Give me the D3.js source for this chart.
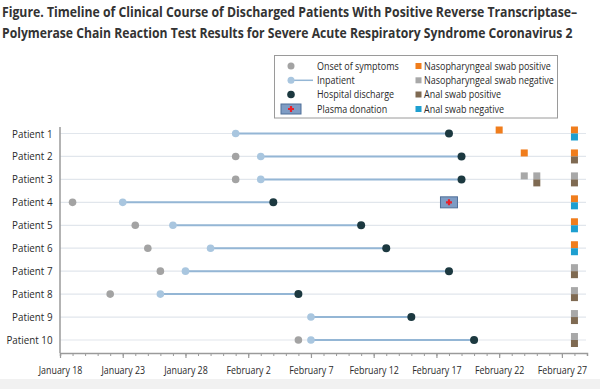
<!DOCTYPE html>
<html><head><meta charset="utf-8">
<script src="https://cdn.jsdelivr.net/npm/d3@7"></script>
<style>body{margin:0;background:#fff}svg{display:block}</style>
</head><body>
<svg id="c" width="600" height="389"></svg>
<script>
const patients = ["Patient 1","Patient 2","Patient 3","Patient 4","Patient 5","Patient 6","Patient 7","Patient 8","Patient 9","Patient 10"];
const onsetDates = [null,"2020-02-01","2020-02-01","2020-01-19","2020-01-24","2020-01-25","2020-01-26","2020-01-22",null,"2020-02-06"];
const admitDates = ["2020-02-01","2020-02-03","2020-02-03","2020-01-23","2020-01-27","2020-01-30","2020-01-28","2020-01-26","2020-02-07","2020-02-07"];
const dischargeDates = ["2020-02-18","2020-02-19","2020-02-19","2020-02-04","2020-02-11","2020-02-13","2020-02-18","2020-02-06","2020-02-15","2020-02-20"];
const plasmaDonations = [{patient:"Patient 4", date:"2020-02-18"}];
// tests: patient, date, nasopharyngeal result, anal result
const testPatients = ["Patient 1","Patient 1","Patient 2","Patient 2","Patient 3","Patient 3","Patient 3","Patient 4","Patient 5","Patient 6","Patient 7","Patient 8","Patient 9","Patient 10"];
const testDates = ["2020-02-22","2020-02-28","2020-02-24","2020-02-28","2020-02-24","2020-02-25","2020-02-28","2020-02-28","2020-02-28","2020-02-28","2020-02-28","2020-02-28","2020-02-28","2020-02-28"];
const npResults = ["pos","pos","pos","pos","neg","neg","neg","pos","pos","pos","neg","neg","neg","neg"];
const analResults = [null,"neg",null,"pos",null,"pos","pos","neg","neg","neg","pos","pos","pos","pos"];
const tickDates = ["2020-01-18","2020-01-23","2020-01-28","2020-02-02","2020-02-07","2020-02-12","2020-02-17","2020-02-22","2020-02-27"];
const tickLabels = ["January 18","January 23","January 28","February 2","February 7","February 12","February 17","February 22","February 27"];
const titleLines = ["Figure.  Timeline of Clinical Course of Discharged Patients With Positive Reverse Transcriptase–",
                    "Polymerase Chain Reaction Test Results for Severe Acute Respiratory Syndrome Coronavirus 2"];

const P = d3.utcParse("%Y-%m-%d");
const C = {onset:"#a3a3a3", inpat:"#a9c6df", line:"#94b6d5", dis:"#1c3940", npPos:"#f07d1c", npNeg:"#a8a8a8", anPos:"#7f6a52", anNeg:"#1e9fd0", grid:"#e1e6ec", axis:"#9a9a9a", text:"#2a2a2a"};
const font = "'Open Sans', 'DejaVu Sans', sans-serif";

// horizontally condense text to mimic the narrow original typeface
function condense(sel,k){
  sel.each(function(){
    const w = this.getComputedTextLength();
    d3.select(this).attr("textLength",w*k).attr("lengthAdjust","spacingAndGlyphs");
  });
}

const svg = d3.select("#c");
svg.append("rect").attr("x",0).attr("y",379).attr("width",600).attr("height",10).attr("fill","#f1f1f1");

// title: scaled horizontally with a transform so its box stays inside the page
const tt = svg.selectAll("text.title").data(titleLines).join("text")
  .attr("x",0).attr("y",0)
  .attr("font-family",font).attr("font-weight",700).attr("font-size",13.5)
  .attr("fill","#333").text(d=>d);
tt.each(function(d,i){
  const target = i===0?576:571;
  const w = this.getComputedTextLength();
  d3.select(this).attr("transform",`translate(2,${17+i*21}) scale(${target/w},1)`);
});

const x = d3.scaleUtc().domain([P("2020-01-18"),P("2020-02-29")]).range([60,587]);
const y = d3.scalePoint().domain(patients).range([133.5,340]);
const axisY = 353;

// gridlines
svg.append("g").selectAll("line").data(patients).join("line")
  .attr("x1",60).attr("x2",586).attr("y1",d=>y(d)).attr("y2",d=>y(d))
  .attr("stroke",C.grid).attr("stroke-width",1.2);

// x axis minor ticks
const minor = d3.utcDay.range(P("2020-01-18"),d3.utcDay.offset(P("2020-02-29"),1));
const gx = svg.append("g").attr("transform",`translate(0,${axisY})`);
gx.call(d3.axisBottom(x).tickValues(minor).tickSize(3).tickFormat(""));
gx.selectAll("line").attr("stroke",C.axis);
gx.select(".domain").attr("stroke",C.axis).attr("stroke-width",1.5);
const gx2 = svg.append("g").attr("transform",`translate(0,${axisY})`);
gx2.call(d3.axisBottom(x).tickValues(tickDates.map(P)).tickSize(5).tickPadding(8)
  .tickFormat((d,i)=>tickLabels[i]));
gx2.select(".domain").remove();
gx2.selectAll("line").attr("stroke",C.axis).attr("stroke-width",1.2);
gx2.selectAll("text").attr("font-family",font).attr("font-size",10.8).attr("fill",C.text).call(condense,0.82);

// y axis
const gy = svg.append("g").attr("transform","translate(60,0)");
gy.call(d3.axisLeft(y).tickSize(0).tickPadding(7.5));
gy.select(".domain").attr("d",`M0,127V${axisY}`).attr("stroke",C.axis).attr("stroke-width",1.5);
gy.selectAll("text").attr("font-family",font).attr("font-size",11).attr("fill",C.text).call(condense,0.89);

// inpatient lines
const rows = patients.map((p,i)=>({p, onset:onsetDates[i]&&P(onsetDates[i]), admit:P(admitDates[i]), dis:P(dischargeDates[i])}));
svg.append("g").selectAll("line").data(rows).join("line")
  .attr("x1",d=>x(d.admit)).attr("x2",d=>x(d.dis)).attr("y1",d=>y(d.p)).attr("y2",d=>y(d.p))
  .attr("stroke",C.line).attr("stroke-width",2);
svg.append("g").selectAll("circle").data(rows.filter(d=>d.onset)).join("circle")
  .attr("cx",d=>x(d.onset)).attr("cy",d=>y(d.p)).attr("r",3.8).attr("fill",C.onset);
svg.append("g").selectAll("circle").data(rows).join("circle")
  .attr("cx",d=>x(d.admit)).attr("cy",d=>y(d.p)).attr("r",3.8).attr("fill",C.inpat);
svg.append("g").selectAll("circle").data(rows).join("circle")
  .attr("cx",d=>x(d.dis)).attr("cy",d=>y(d.p)).attr("r",4).attr("fill",C.dis);

// plasma
function plasma(g,cx,cy,w,h){
  g.append("rect").attr("x",cx-w/2).attr("y",cy-h/2).attr("width",w).attr("height",h)
    .attr("fill","#7e9cc4").attr("stroke","#4f6f98").attr("stroke-width",1);
  g.append("path").attr("d",`M${cx-3},${cy}H${cx+3}M${cx},${cy-3}V${cy+3}`)
    .attr("stroke","#e8202a").attr("stroke-width",2.2);
}
plasmaDonations.forEach(d=>plasma(svg.append("g"),x(P(d.date)),y(d.patient),17,11));

// tests
const tests = testPatients.map((p,i)=>({p,d:P(testDates[i]),np:npResults[i],an:analResults[i]}));
const sq = 7;
const tg = svg.append("g");
tg.selectAll("rect.np").data(tests.filter(t=>t.np)).join("rect")
  .attr("x",t=>x(t.d)-sq/2).attr("y",t=>y(t.p)-sq).attr("width",sq).attr("height",sq)
  .attr("fill",t=>t.np==="pos"?C.npPos:C.npNeg);
tg.selectAll("rect.an").data(tests.filter(t=>t.an)).join("rect")
  .attr("x",t=>x(t.d)-sq/2).attr("y",t=>y(t.p)).attr("width",sq).attr("height",sq)
  .attr("fill",t=>t.an==="pos"?C.anPos:C.anNeg);

// legend
const lg = svg.append("g");
lg.append("rect").attr("x",274.5).attr("y",55.5).attr("width",283).attr("height",62.5)
  .attr("fill","#fff").attr("stroke","#9a9a9a").attr("stroke-width",1);
const ly = [66,80.3,94.5,109];
const leftItems = ["Onset of symptoms","Inpatient","Hospital discharge","Plasma donation"];
lg.append("circle").attr("cx",291).attr("cy",ly[0]).attr("r",3.5).attr("fill",C.onset);
lg.append("line").attr("x1",291).attr("x2",313).attr("y1",ly[1]).attr("y2",ly[1]).attr("stroke",C.line).attr("stroke-width",1.5);
lg.append("circle").attr("cx",291).attr("cy",ly[1]).attr("r",3.5).attr("fill",C.inpat);
lg.append("circle").attr("cx",291).attr("cy",ly[2]).attr("r",3.8).attr("fill",C.dis);
plasma(lg,291,ly[3],20,10);
lg.selectAll("text.l").data(leftItems).join("text")
  .attr("x",317).attr("y",(d,i)=>ly[i]+3.8)
  .attr("font-family",font).attr("font-size",10.8).attr("fill",C.text).text(d=>d).call(condense,0.83);
const rightItems = ["Nasopharyngeal swab positive","Nasopharyngeal swab negative","Anal swab positive","Anal swab negative"];
const rightCols = [C.npPos,C.npNeg,C.anPos,C.anNeg];
lg.selectAll("rect.r").data(rightItems).join("rect")
  .attr("x",415.5).attr("y",(d,i)=>ly[i]-3).attr("width",6).attr("height",6).attr("fill",(d,i)=>rightCols[i]);
lg.selectAll("text.r").data(rightItems).join("text")
  .attr("x",424).attr("y",(d,i)=>ly[i]+3.8)
  .attr("font-family",font).attr("font-size",10.8).attr("fill",C.text).text(d=>d).call(condense,0.83);
</script>
</body></html>
